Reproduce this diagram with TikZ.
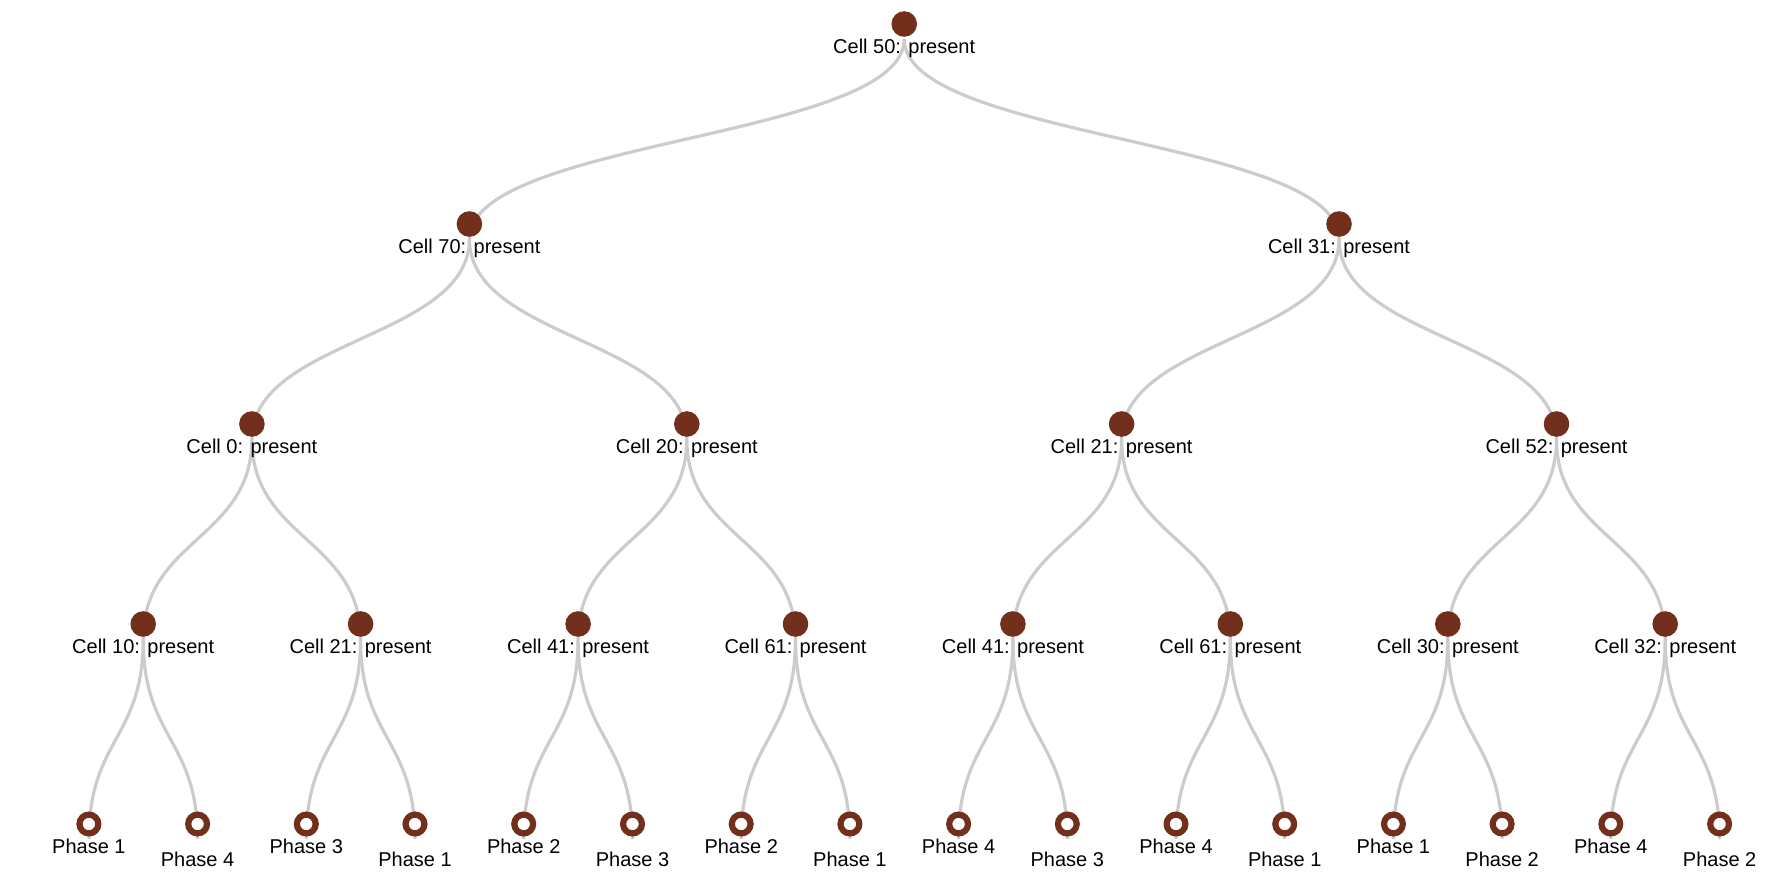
\documentclass[tikz,border=0pt]{standalone}
\usepackage{fontspec}
\setmainfont{Liberation Sans}
\usetikzlibrary{calc}
\definecolor{nodebrown}{HTML}{722F1B}
\definecolor{linkgray}{HTML}{CCCCCC}
\begin{document}
\begin{tikzpicture}[x=1pt,y=-1pt,
  link/.style={draw=linkgray,line width=3.2pt},
  innernode/.style={circle,fill=nodebrown,minimum size=25.6pt,inner sep=0pt},
  leafnode/.style={circle,draw=nodebrown,line width=6.2pt,fill=white,minimum size=18.8pt,inner sep=0pt},
  lbl/.style={anchor=base,inner sep=0pt,font=\fontsize{20}{24}\selectfont},
  lblhi/.style={lbl,yshift=-14pt},
  lbllo/.style={lbl,yshift=-27pt}]
\useasboundingbox (0,0) rectangle (1788,894);
% link anchor points (15 below each node centre)
\coordinate (p1) at (904.2,39);
\coordinate (p2) at (469.4,239);
\coordinate (p3) at (1339.0,239);
\coordinate (p4) at (251.9,439);
\coordinate (p5) at (686.8,439);
\coordinate (p6) at (1121.6,439);
\coordinate (p7) at (1556.5,439);
\coordinate (p8) at (143.2,639);
\coordinate (p9) at (360.6,639);
\coordinate (p10) at (578.1,639);
\coordinate (p11) at (795.5,639);
\coordinate (p12) at (1012.9,639);
\coordinate (p13) at (1230.3,639);
\coordinate (p14) at (1447.8,639);
\coordinate (p15) at (1665.2,639);
\coordinate (p16) at (88.9,839);
\coordinate (p17) at (197.6,839);
\coordinate (p18) at (306.3,839);
\coordinate (p19) at (415.0,839);
\coordinate (p20) at (523.7,839);
\coordinate (p21) at (632.5,839);
\coordinate (p22) at (741.2,839);
\coordinate (p23) at (849.9,839);
\coordinate (p24) at (958.6,839);
\coordinate (p25) at (1067.3,839);
\coordinate (p26) at (1176.0,839);
\coordinate (p27) at (1284.7,839);
\coordinate (p28) at (1393.4,839);
\coordinate (p29) at (1502.1,839);
\coordinate (p30) at (1610.8,839);
\coordinate (p31) at (1719.6,839);
% links
\foreach \k in {2,...,31}{
  \pgfmathtruncatemacro{\pk}{\k/2}
  \path ($(p\pk)!0.5!(p\k)$) coordinate (m\k);
  \draw[link] (p\pk) .. controls (p\pk |- m\k) and (p\k |- m\k) .. (p\k);
}
% inner nodes
\foreach \k in {1,...,15}{
  \node[innernode] (n\k) at ([yshift=15pt]p\k) {};
}
% leaves
\foreach \k in {16,...,31}{
  \node[leafnode] (n\k) at ([yshift=15pt]p\k) {};
}
% labels
\node[lblhi] (t1) at (p1) {Cell 50: present};
\node[lblhi] (t2) at (p2) {Cell 70: present};
\node[lblhi] (t3) at (p3) {Cell 31: present};
\node[lblhi] (t4) at (p4) {Cell 0: present};
\node[lblhi] (t5) at (p5) {Cell 20: present};
\node[lblhi] (t6) at (p6) {Cell 21: present};
\node[lblhi] (t7) at (p7) {Cell 52: present};
\node[lblhi] (t8) at (p8) {Cell 10: present};
\node[lblhi] (t9) at (p9) {Cell 21: present};
\node[lblhi] (t10) at (p10) {Cell 41: present};
\node[lblhi] (t11) at (p11) {Cell 61: present};
\node[lblhi] (t12) at (p12) {Cell 41: present};
\node[lblhi] (t13) at (p13) {Cell 61: present};
\node[lblhi] (t14) at (p14) {Cell 30: present};
\node[lblhi] (t15) at (p15) {Cell 32: present};
\node[lblhi] (t16) at (p16) {Phase 1};
\node[lbllo] (t17) at (p17) {Phase 4};
\node[lblhi] (t18) at (p18) {Phase 3};
\node[lbllo] (t19) at (p19) {Phase 1};
\node[lblhi] (t20) at (p20) {Phase 2};
\node[lbllo] (t21) at (p21) {Phase 3};
\node[lblhi] (t22) at (p22) {Phase 2};
\node[lbllo] (t23) at (p23) {Phase 1};
\node[lblhi] (t24) at (p24) {Phase 4};
\node[lbllo] (t25) at (p25) {Phase 3};
\node[lblhi] (t26) at (p26) {Phase 4};
\node[lbllo] (t27) at (p27) {Phase 1};
\node[lblhi] (t28) at (p28) {Phase 1};
\node[lbllo] (t29) at (p29) {Phase 2};
\node[lblhi] (t30) at (p30) {Phase 4};
\node[lbllo] (t31) at (p31) {Phase 2};
\end{tikzpicture}
\end{document}
